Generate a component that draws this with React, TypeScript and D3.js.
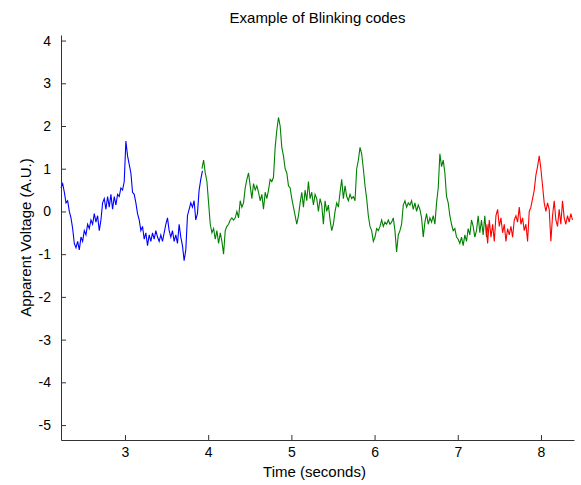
import React, { useEffect, useRef } from "react";
import * as d3 from "d3";

// Sampling interval (seconds) of the recorded trace
const SAMPLE_DT = 0.02;

// Segment start times (seconds)
const blueStart = 2.231;
const greenStart = 3.925;
const redStart = 7.339;

// Apparent voltage samples, one segment per code
const blueValues = [
  0.55, 0.65, 0.45, 0.2, 0.25, 0.0, -0.15, -0.4, -0.75, -0.85,
  -0.7, -0.9, -0.6, -0.7, -0.45, -0.55, -0.3, -0.4, -0.2, -0.3,
  -0.05, -0.25, -0.1, -0.45, -0.2, 0.2, 0.3, 0.05, 0.35, 0.1,
  0.4, 0.05, 0.35, 0.15, 0.4, 0.35, 0.55, 0.5, 0.7, 1.65,
  1.3, 1.1, 0.9, 0.45, 0.4, 0.2, -0.05, -0.2, -0.45, -0.35,
  -0.65, -0.5, -0.8, -0.55, -0.7, -0.5, -0.65, -0.45, -0.6, -0.7,
  -0.55, -0.7, -0.5, -0.3, -0.15, -0.45, -0.6, -0.45, -0.7, -0.55,
  -0.75, -0.3, -0.6, -0.8, -1.15, -0.9, -0.1, 0.05, 0.2, 0.1,
  0.25, -0.2, -0.05, 0.5, 0.75, 0.95,
];

const greenValues = [
  1.0, 1.2, 0.9, 0.7, 0.2, -0.3, -0.5, -0.4, -0.65, -0.45,
  -0.75, -0.5, -0.7, -1.0, -0.45, -0.35, -0.3, -0.2, -0.15, -0.2,
  -0.15, 0.0, -0.15, 0.25, 0.1, 0.2, 0.55, 0.75, 0.9, 0.6,
  0.3, 0.65, 0.5, 0.6, 0.45, 0.25, 0.4, 0.05, 0.45, 0.3,
  0.5, 0.75, 0.7, 0.8, 1.5, 1.9, 2.2, 2.0, 1.5, 1.3,
  1.0, 0.9, 0.6, 0.55, 0.3, 0.1, -0.1, -0.3, -0.1, 0.2,
  0.45, 0.1, 0.5, 0.25, 0.7, 0.3, 0.45, 0.15, 0.4, 0.3,
  0.0, 0.3, 0.15, -0.3, 0.25, 0.0, 0.15, -0.2, -0.45, -0.3,
  0.0, 0.2, 0.1, 0.45, 0.75, 0.3, 0.6, 0.35, 0.25, 0.4,
  0.3, 0.35, 0.25, 1.0, 1.2, 1.5, 1.35, 1.0, 0.6, 0.3,
  -0.1, -0.35, -0.45, -0.7, -0.6, -0.4, -0.45, -0.35, -0.2, -0.35,
  -0.25, -0.3, -0.2, -0.3, -0.25, -0.15, -0.45, -0.95, -0.55, -0.45,
  -0.3, 0.15, 0.25, 0.1, 0.2, 0.15, 0.25, 0.05, 0.2, 0.0,
  0.15, 0.05, -0.15, -0.6, -0.25, -0.05, -0.3, -0.15, -0.25, -0.1,
  -0.3, 0.2, 0.55, 1.35, 1.05, 1.2, 0.9, 0.35, 0.2, -0.1,
  -0.3, -0.45, -0.4, -0.6, -0.65, -0.75, -0.6, -0.8, -0.55, -0.7,
  -0.4, -0.55, -0.2, -0.35, -0.6, -0.45, -0.1, -0.5, -0.2, -0.55,
  -0.1, -0.6, -0.3,
];

const redValues = [
  -0.3, -0.75, -0.2, -0.6, -0.3, -0.7, -0.1, 0.05, -0.35, -0.15,
  -0.5, -0.3, -0.7, -0.4, -0.55, -0.35, -0.6, -0.2, -0.1, -0.25,
  0.1, -0.3, -0.15, -0.45, -0.3, -0.7, 0.0, 0.1, 0.3, 0.5,
  0.85, 1.05, 1.3, 1.0, 0.6, 0.2, 0.0, 0.2, 0.05, -0.7,
  -0.1, 0.25, -0.2, -0.35, 0.05, -0.3, 0.25, -0.15, -0.3, -0.1,
  -0.25, -0.05, -0.2,
];

const xTicks = [3, 4, 5, 6, 7, 8];
const yTicks = [-5, -4, -3, -2, -1, 0, 1, 2, 3, 4];

const xDomain = [2.231, 8.397];
const yDomain = [-5.35, 4.13];

const title = "Example of Blinking codes";
const xLabel = "Time (seconds)";
const yLabel = "Apparent Voltage (A.U.)";

const segments = [
  { start: blueStart, values: blueValues, color: "#0000ff" },
  { start: greenStart, values: greenValues, color: "#008000" },
  { start: redStart, values: redValues, color: "#ff0000" },
];

const W = 581;
const H = 485;
const margin = { left: 61, right: 7, top: 35, bottom: 45 };
const FONT = "'Liberation Sans', Arial, Helvetica, sans-serif";

// Plain ASCII hyphen for negative tick labels
const tickFmt = (d: d3.NumberValue) => String(d);

export default function App() {
  const ref = useRef<SVGSVGElement | null>(null);

  useEffect(() => {
    const svg = d3.select(ref.current);
    svg.selectAll("*").remove();

    const x = d3
      .scaleLinear()
      .domain(xDomain)
      .range([margin.left, W - margin.right]);
    const y = d3
      .scaleLinear()
      .domain(yDomain)
      .range([H - margin.bottom, margin.top]);

    svg.append("rect").attr("width", W).attr("height", H).attr("fill", "#fff");

    const line = d3
      .line<[number, number]>()
      .x((d) => x(d[0]))
      .y((d) => y(d[1]));

    const plot = svg.append("g");
    segments.forEach((seg) => {
      const pts: [number, number][] = seg.values.map((v, i) => [
        seg.start + i * SAMPLE_DT,
        v,
      ]);
      plot
        .append("path")
        .datum(pts)
        .attr("d", line)
        .attr("fill", "none")
        .attr("stroke", seg.color)
        .attr("stroke-width", 1.1);
    });

    // Bottom axis, ticks pointing inward
    const xAxis = d3
      .axisBottom(x)
      .tickValues(xTicks)
      .tickSizeInner(-5)
      .tickSizeOuter(0)
      .tickPadding(7)
      .tickFormat(tickFmt);
    const gx = svg
      .append("g")
      .attr("transform", `translate(0,${H - margin.bottom})`)
      .call(xAxis);

    // Left axis, ticks pointing inward
    const yAxis = d3
      .axisLeft(y)
      .tickValues(yTicks)
      .tickSizeInner(-5)
      .tickSizeOuter(0)
      .tickPadding(10)
      .tickFormat(tickFmt);
    const gy = svg
      .append("g")
      .attr("transform", `translate(${margin.left},0)`)
      .call(yAxis);

    [gx, gy].forEach((g) => {
      g.select(".domain").attr("stroke", "#333").attr("stroke-width", 1);
      g.selectAll(".tick line").attr("stroke", "#333");
      g.selectAll(".tick text")
        .attr("fill", "#000")
        .style("font-family", FONT)
        .style("font-size", "14px");
    });

    svg
      .append("text")
      .attr("x", (margin.left + W - margin.right) / 2)
      .attr("y", 23)
      .attr("text-anchor", "middle")
      .style("font-family", FONT)
      .style("font-size", "15px")
      .text(title);

    svg
      .append("text")
      .attr("x", (margin.left + W - margin.right) / 2 - 3)
      .attr("y", 477)
      .attr("text-anchor", "middle")
      .style("font-family", FONT)
      .style("font-size", "15px")
      .text(xLabel);

    svg
      .append("text")
      .attr(
        "transform",
        `translate(31,${(margin.top + H - margin.bottom) / 2}) rotate(-90)`
      )
      .attr("text-anchor", "middle")
      .style("font-family", FONT)
      .style("font-size", "15px")
      .text(yLabel);
  }, []);

  return (
    <svg
      ref={ref}
      width={W}
      height={H}
      style={{ position: "absolute", left: 0, top: 0, display: "block" }}
    />
  );
}
